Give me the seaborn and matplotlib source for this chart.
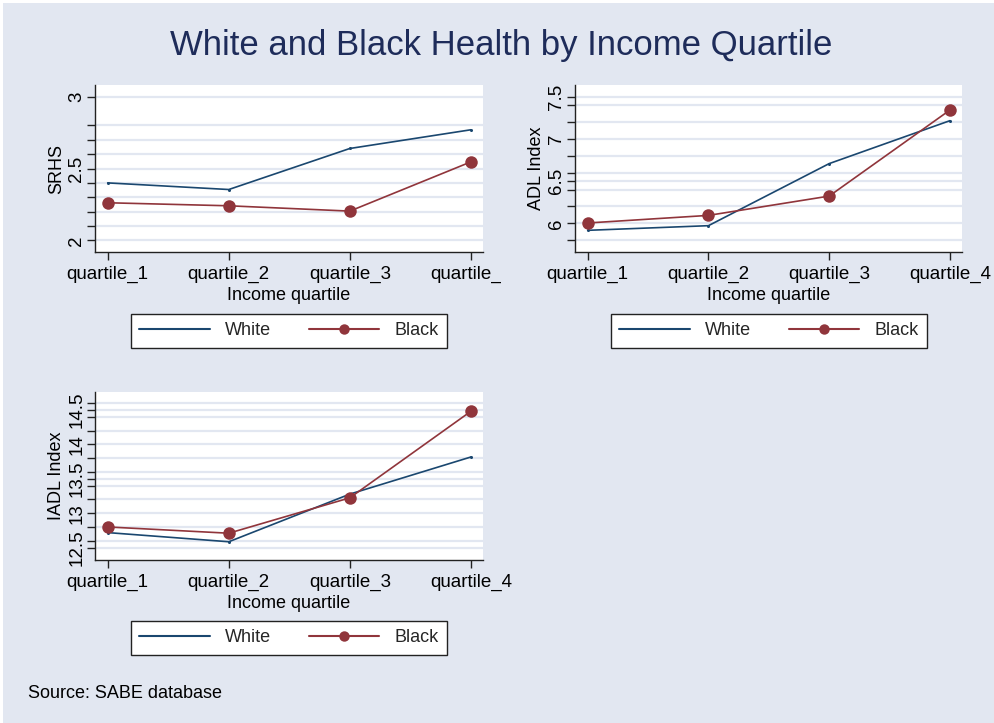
import numpy as np
import pandas as pd
import matplotlib
matplotlib.use("Agg")
import matplotlib.pyplot as plt
from matplotlib.lines import Line2D
from matplotlib.patches import Rectangle
from matplotlib.transforms import Bbox, TransformedBbox
import seaborn as sns

# ---- data -------------------------------------------------------------
quartiles = ["quartile_1", "quartile_2", "quartile_3", "quartile_4"]

srhs_white = [2.40, 2.354, 2.639, 2.769]
srhs_black = [2.262, 2.241, 2.204, 2.546]

adl_white = [5.917, 5.972, 6.708, 7.217]
adl_black = [6.004, 6.094, 6.323, 7.343]

iadl_white = [12.718, 12.585, 13.277, 13.816]
iadl_black = [12.80, 12.709, 13.223, 14.48]

groups = ["White", "Black"]

# ---- style ------------------------------------------------------------
sns.set_theme(style="white")
plt.rcParams["font.family"] = ["Liberation Sans", "DejaVu Sans"]

BG = "#E2E7F1"
GRID = "#E2E7F1"
NAVY = "#1A476F"
MAROON = "#90353B"
TITLE = "#1E2C5A"

W, H = 995, 723
fig = plt.figure(figsize=(W / 100, H / 100), dpi=100, facecolor=BG)

# thin white edge along the top and left of the canvas
fig.patches.append(Rectangle((0, 1 - 3 / H), 1, 3 / H, transform=fig.transFigure,
                             facecolor="white", edgecolor="none", zorder=0))
fig.patches.append(Rectangle((0, 0), 3 / W, 1, transform=fig.transFigure,
                             facecolor="white", edgecolor="none", zorder=0))


def px_axes(left, top, right, bottom):
    return fig.add_axes([left / W, 1 - bottom / H, (right - left) / W, (bottom - top) / H])


def panel(ax, white, black, ylabel, ylim, majors, minors, clip_right=None):
    df = pd.DataFrame({
        "quartile": quartiles * 2,
        "value": list(white) + list(black),
        "race": ["White"] * 4 + ["Black"] * 4,
    })
    sns.lineplot(data=df[df.race == "White"], x="quartile", y="value", ax=ax,
                 color=NAVY, lw=1.2, marker="o", markersize=2.2,
                 markeredgewidth=0, legend=False, zorder=3)
    sns.lineplot(data=df[df.race == "Black"], x="quartile", y="value", ax=ax,
                 color=MAROON, lw=1.2, marker="o", markersize=9,
                 markeredgewidth=0, legend=False, zorder=4)

    ax.set_facecolor("white")
    ax.set_xlim(-0.105, 3.10)
    ax.set_ylim(*ylim)
    ax.set_yticks(majors)
    ax.set_yticklabels([f"{v:g}" for v in majors])
    ax.set_yticks(minors, minor=True)
    ax.grid(True, which="both", axis="y", color=GRID, lw=1.6)
    ax.grid(False, axis="x")
    ax.set_axisbelow(True)

    for s in ["top", "right"]:
        ax.spines[s].set_visible(False)
    for s in ["left", "bottom"]:
        ax.spines[s].set_color("#222222")
        ax.spines[s].set_linewidth(1.0)

    ax.tick_params(axis="both", which="both", direction="out", length=5.5,
                   width=1.0, color="#222222", labelsize=13.5, labelcolor="black",
                   left=True, bottom=True)
    ax.tick_params(axis="y", which="major", pad=1.5)
    ax.tick_params(axis="x", which="major", pad=4.5)
    for lab in ax.get_yticklabels():
        lab.set_rotation(90)
        lab.set_va("center")
        lab.set_ha("right")

    ax.set_xlabel("Income quartile", fontsize=13, labelpad=3, color="black")
    ax.set_ylabel(ylabel, fontsize=13, labelpad=2, color="black")

    if clip_right is not None:
        clip = TransformedBbox(Bbox.from_extents(0, 0, clip_right / W, 1), fig.transFigure)
        for lab in ax.get_xticklabels():
            lab.set_clip_box(clip)
            lab.set_clip_on(True)


def legend_box(cx, cy):
    handles = [
        Line2D([], [], color=NAVY, lw=1.5),
        Line2D([], [], color=MAROON, lw=1.5, marker="o", markersize=7.5, markeredgewidth=0),
    ]
    leg = fig.legend(handles, groups, ncol=2, loc="center",
                     bbox_to_anchor=(cx / W, 1 - cy / H), bbox_transform=fig.transFigure,
                     fontsize=13, frameon=True, fancybox=False, edgecolor="#222222",
                     facecolor="white", framealpha=1, handlelength=3.9,
                     handletextpad=0.85, columnspacing=2.1, borderpad=0.45)
    leg.get_frame().set_linewidth(1.0)


ax1 = px_axes(95, 85, 483, 252)
panel(ax1, srhs_white, srhs_black, "SRHS", (1.92, 3.08), [2, 2.5, 3],
      [2.1, 2.2, 2.3, 2.4, 2.6, 2.7, 2.8], clip_right=501)

ax2 = px_axes(575, 85, 962, 252)
panel(ax2, adl_white, adl_black, "ADL Index", (5.66, 7.64), [6, 6.5, 7, 7.5],
      [5.8, 6.2, 6.4, 6.6, 6.8, 7.2, 7.4])

ax3 = px_axes(95, 392, 483, 560)
panel(ax3, iadl_white, iadl_black, "IADL Index", (12.32, 14.76),
      [12.5, 13, 13.5, 14, 14.5],
      [12.6, 12.8, 13.2, 13.4, 13.6, 13.8, 14.2, 14.4, 14.6])

legend_box(289, 331)
legend_box(769, 331)
legend_box(289, 638)

fig.text(501 / W, 1 - 46 / H, "White and Black Health by Income Quartile",
         ha="center", va="center", fontsize=25, color=TITLE)
fig.text(28 / W, 1 - 693 / H, "Source: SABE database",
         ha="left", va="center", fontsize=13, color="black")

fig.savefig("out.png", dpi=100, facecolor=BG)
